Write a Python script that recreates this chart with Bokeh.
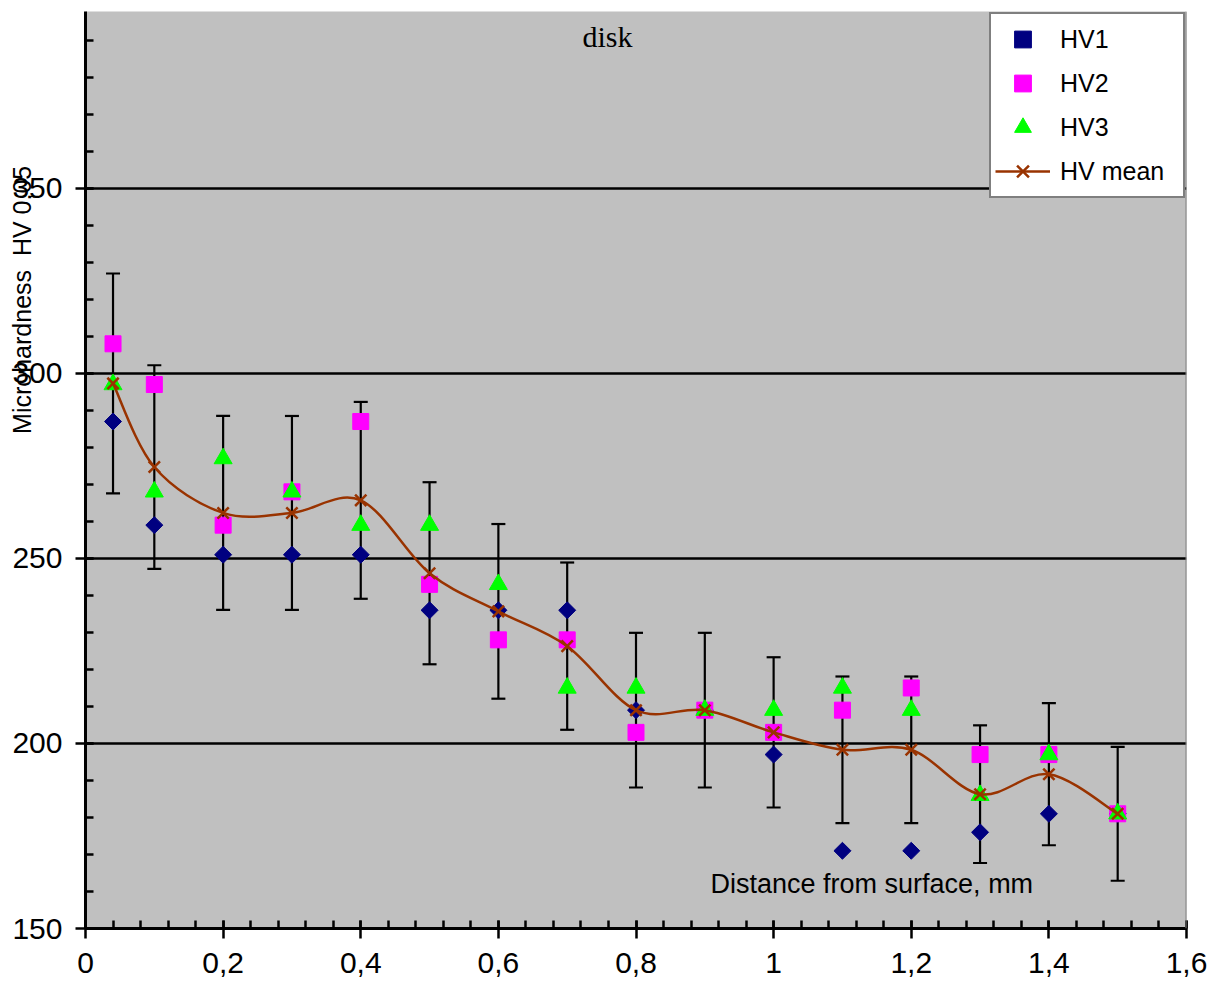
import numpy as np
from bokeh.plotting import figure
from bokeh.models import (Range1d, FixedTicker, CustomJSTickFormatter, Whisker, TeeHead,
                          ColumnDataSource, Legend, LegendItem, Label, Span)
from bokeh.embed import file_html
from bokeh.resources import INLINE

# ---------------- data ----------------
distance = [0.04, 0.1, 0.2, 0.3, 0.4, 0.5, 0.6, 0.7, 0.8, 0.9, 1.0, 1.1, 1.2, 1.3, 1.4, 1.5]
hv1 = [287, 259, 251, 251, 251, 236, 236, 236, 209, 209, 197, 171, 171, 176, 181, 181]
hv2 = [308, 297, 259, 268, 287, 243, 228, 228, 203, 209, 203, 209, 215, 197, 197, 181]
hv3 = [297, 268, 277, 268, 259, 259, 243, 215, 215, 209, 209, 215, 209, 186, 197, 181]
hv_mean = [297.3, 274.7, 262.3, 262.3, 265.7, 246.0, 235.7, 226.3, 209.0, 209.0,
           203.0, 198.3, 198.3, 186.3, 191.7, 181.0]
hv_err = [29.7, 27.5, 26.2, 26.2, 26.6, 24.6, 23.6, 22.6, 20.9, 20.9,
          20.3, 19.8, 19.8, 18.6, 19.2, 18.1]
x_ticks = [0, 0.2, 0.4, 0.6, 0.8, 1.0, 1.2, 1.4, 1.6]
y_ticks = [150, 200, 250, 300, 350, 400]
series_names = ["HV1", "HV2", "HV3", "HV mean"]
y_title = "Microhardness  HV 0,05"
x_title = "Distance from surface, mm"
chart_title = "disk"

FONT = "Liberation Sans"
BROWN = "#993300"

W, H = 1212, 985
FRAME_BOTTOM = 928
p = figure(width=W, height=H, x_range=Range1d(0, 1.6), y_range=Range1d(150, 397.8),
           output_backend="svg", toolbar_location=None,
           min_border_left=85, min_border_right=W - 1186, min_border_top=11,
           min_border_bottom=H - FRAME_BOTTOM)
p.background_fill_color = "#C0C0C0"
p.border_fill_color = "white"
p.outline_line_color = None

p.xgrid.visible = False
p.ygrid.grid_line_color = "black"
p.ygrid.grid_line_width = 2.5

x_minor = [round(v, 2) for v in np.arange(0, 1.6001, 0.04)]
y_minor = list(range(150, 401, 10))
p.xaxis.ticker = FixedTicker(ticks=x_ticks, minor_ticks=x_minor)
p.yaxis.ticker = FixedTicker(ticks=y_ticks, minor_ticks=y_minor)
p.xaxis.formatter = CustomJSTickFormatter(
    code="var s = (Math.round(tick*10)/10).toString(); return s.replace('.', ',');")

for ax in (p.xaxis, p.yaxis):
    ax.axis_line_color = "black"
    ax.axis_line_width = 3
    ax.major_tick_line_color = "black"
    ax.major_tick_line_width = 2.5
    ax.minor_tick_line_color = "black"
    ax.minor_tick_line_width = 2.5
    ax.major_tick_in = 8
    ax.major_tick_out = 10
    ax.minor_tick_in = 8
    ax.minor_tick_out = 0
    ax.major_label_text_font = FONT
    ax.major_label_text_font_size = "30px"
    ax.major_label_text_color = "black"
p.yaxis.major_label_standoff = 13
p.xaxis.major_label_standoff = 14

# y-axis title: overlaps the tick labels (standoff measured from the axis line);
# leading no-break spaces lift the visible words towards the upper half, as in the original
yax = p.yaxis[0]
yax.axis_label = "\u00a0" * 49 + y_title.replace("  ", " \u00a0")
yax.axis_label_standoff_mode = "axis"
yax.axis_label_standoff = 50
yax.axis_label_text_font = FONT
yax.axis_label_text_font_style = "normal"
yax.axis_label_text_font_size = "25px"
yax.axis_label_text_color = "black"

# right border
p.add_layout(Span(location=1.6, dimension="height", line_color="#808080", line_width=2))

# error bars
err_src = ColumnDataSource(dict(
    x=distance,
    upper=[m + e for m, e in zip(hv_mean, hv_err)],
    lower=[m - e for m, e in zip(hv_mean, hv_err)]))
wh = Whisker(base="x", upper="upper", lower="lower", source=err_src,
             line_color="black", line_width=2.2,
             upper_head=TeeHead(size=14, line_color="black", line_width=2.2),
             lower_head=TeeHead(size=14, line_color="black", line_width=2.2))
p.add_layout(wh)

r1 = p.scatter(distance, hv1, marker="square", angle=np.pi / 4, size=12,
               fill_color="#000080", line_color="#000080")
r2 = p.scatter(distance, hv2, marker="square", size=16,
               fill_color="#FF00FF", line_color="#FF00FF")
r3 = p.scatter(distance, hv3, marker="triangle", size=18,
               fill_color="#00FF00", line_color="#00FF00")

# smoothed mean line (Bezier segments through the mean points)
xs = np.array(distance, dtype=float)
ys = np.array(hv_mean, dtype=float)
n = len(xs)
bx0, by0, bx1, by1, cx0, cy0, cx1, cy1 = [], [], [], [], [], [], [], []
for i in range(n - 1):
    im = max(i - 1, 0)
    ip = min(i + 2, n - 1)
    bx0.append(xs[i]); by0.append(ys[i])
    bx1.append(xs[i + 1]); by1.append(ys[i + 1])
    cx0.append(xs[i] + (xs[i + 1] - xs[im]) / 6.0)
    cy0.append(ys[i] + (ys[i + 1] - ys[im]) / 6.0)
    cx1.append(xs[i + 1] - (xs[ip] - xs[i]) / 6.0)
    cy1.append(ys[i + 1] - (ys[ip] - ys[i]) / 6.0)
p.bezier(x0=bx0, y0=by0, x1=bx1, y1=by1, cx0=cx0, cy0=cy0, cx1=cx1, cy1=cy1,
         line_color=BROWN, line_width=2.5)

# legend-only line sample (no visible points on the plot)
r_leg_line = p.line(x=[np.nan], y=[np.nan], line_color=BROWN, line_width=2.5)
r4 = p.scatter(distance, hv_mean, marker="x", size=16, line_color=BROWN, line_width=2.5)

legend = Legend(items=[
    LegendItem(label=series_names[0], renderers=[r1]),
    LegendItem(label=series_names[1], renderers=[r2]),
    LegendItem(label=series_names[2], renderers=[r3]),
    LegendItem(label=series_names[3], renderers=[r_leg_line, r4]),
], location="top_right", margin=1,
    border_line_color="black", border_line_width=2,
    background_fill_color="white", background_fill_alpha=1,
    label_text_font=FONT, label_text_font_size="25px", label_text_color="black",
    glyph_width=55, glyph_height=42, label_height=42, label_width=119,
    spacing=2, padding=4, label_standoff=10)
p.add_layout(legend)

# chart title (kept inside the frame, near the top centre)
p.add_layout(Label(x=607 - 85, y=FRAME_BOTTOM - 36, x_units="screen", y_units="screen",
                   text=chart_title, text_align="center", text_baseline="alphabetic",
                   text_font="Liberation Serif", text_font_size="30px", text_color="black"))
p.add_layout(Label(x=1.1427, y=161.9, text=x_title,
                   text_align="center", text_baseline="middle",
                   text_font=FONT, text_font_size="27px", text_color="black"))

open("out.html", "w").write(file_html(p, INLINE))
